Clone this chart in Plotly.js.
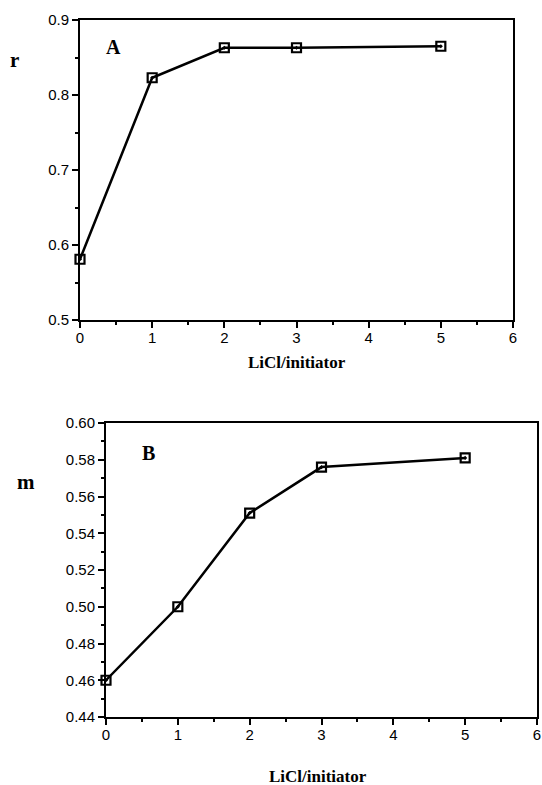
<!DOCTYPE html>
<html>
<head>
<meta charset="utf-8">
<script src="https://cdn.plot.ly/plotly-3.0.1.min.js"></script>
<style>html,body{margin:0;padding:0;background:#fff;}#chart{width:542px;height:785px;}</style>
</head>
<body>
<div id="chart"></div>
<script>
// Data
const ratioA = [0, 1, 2, 3, 5];
const rValues = [0.581, 0.823, 0.863, 0.863, 0.865];
const ratioB = [0, 1, 2, 3, 5];
const mValues = [0.460, 0.500, 0.551, 0.576, 0.581];
const xTitle = 'LiCl/initiator';
const yTitleA = 'r';
const yTitleB = 'm';
const panelA = 'A';
const panelB = 'B';

const W = 542, H = 785;
const px = v => v / W;
const py = v => 1 - v / H;

const lineStyle = {color: '#000', width: 2.5};
const markerStyle = {symbol: 'square-open-dot', size: 9, color: '#000', line: {color: '#000', width: 2.2}};

const traces = [
  {x: ratioA, y: rValues, xaxis: 'x', yaxis: 'y', mode: 'lines+markers', line: lineStyle, marker: markerStyle, cliponaxis: false},
  {x: ratioB, y: mValues, xaxis: 'x2', yaxis: 'y2', mode: 'lines+markers', line: lineStyle, marker: markerStyle, cliponaxis: false}
];

const tickFont = {family: '"Liberation Sans", Arial, sans-serif', size: 15, color: '#000'};
function axisBase(extra) {
  return Object.assign({
    showline: true, linecolor: '#000', linewidth: 2, mirror: true,
    ticks: 'outside', ticklen: 6, tickwidth: 2, tickcolor: '#000',
    showgrid: false, zeroline: false, tickfont: tickFont, fixedrange: true
  }, extra);
}

const titleFont = {family: '"Liberation Serif", "Times New Roman", serif', size: 17, color: '#000'};
const yTitleFont = {family: '"Liberation Serif", "Times New Roman", serif', size: 21, color: '#000'};
const panelFont = {family: '"Liberation Serif", "Times New Roman", serif', size: 20, color: '#000'};

const layout = {
  width: W, height: H,
  margin: {l: 0, r: 0, t: 0, b: 0},
  paper_bgcolor: '#fff', plot_bgcolor: '#fff',
  showlegend: false,
  xaxis: axisBase({domain: [px(80), px(513)], anchor: 'y', range: [0, 6], dtick: 1, tick0: 0, ticklabelstandoff: -3,
    minor: {dtick: 0.5, ticklen: 3, tickwidth: 2, tickcolor: '#000', ticks: 'outside'}}),
  yaxis: axisBase({domain: [py(320), py(20)], anchor: 'x', range: [0.5, 0.9], dtick: 0.1, tick0: 0.5, tickformat: '.1f',
    minor: {dtick: 0.05, ticklen: 3, tickwidth: 2, tickcolor: '#000', ticks: 'outside'}}),
  xaxis2: axisBase({domain: [px(106), px(537)], anchor: 'y2', range: [0, 6], dtick: 1, tick0: 0, ticklabelstandoff: -3,
    minor: {dtick: 0.5, ticklen: 3, tickwidth: 2, tickcolor: '#000', ticks: 'outside'}}),
  yaxis2: axisBase({domain: [py(717), py(423)], anchor: 'x2', range: [0.44, 0.60], dtick: 0.02, tick0: 0.44, tickformat: '.2f',
    minor: {dtick: 0.01, ticklen: 3, tickwidth: 2, tickcolor: '#000', ticks: 'outside'}}),
  annotations: [
    {text: '<b>' + yTitleA + '</b>', xref: 'paper', yref: 'paper', x: px(14), y: py(60), showarrow: false, font: yTitleFont, xanchor: 'center', yanchor: 'middle'},
    {text: '<b>' + xTitle + '</b>', xref: 'paper', yref: 'paper', x: px(297), y: py(362), showarrow: false, font: titleFont, xanchor: 'center', yanchor: 'middle'},
    {text: '<b>' + panelA + '</b>', xref: 'paper', yref: 'paper', x: px(113), y: py(47), showarrow: false, font: panelFont, xanchor: 'center', yanchor: 'middle'},
    {text: '<b>' + yTitleB + '</b>', xref: 'paper', yref: 'paper', x: px(26), y: py(482), showarrow: false, font: yTitleFont, xanchor: 'center', yanchor: 'middle'},
    {text: '<b>' + xTitle + '</b>', xref: 'paper', yref: 'paper', x: px(318), y: py(776), showarrow: false, font: titleFont, xanchor: 'center', yanchor: 'middle'},
    {text: '<b>' + panelB + '</b>', xref: 'paper', yref: 'paper', x: px(148), y: py(453), showarrow: false, font: panelFont, xanchor: 'center', yanchor: 'middle'}
  ]
};

Plotly.newPlot('chart', traces, layout, {staticPlot: true, displayModeBar: false});
</script>
</body>
</html>
